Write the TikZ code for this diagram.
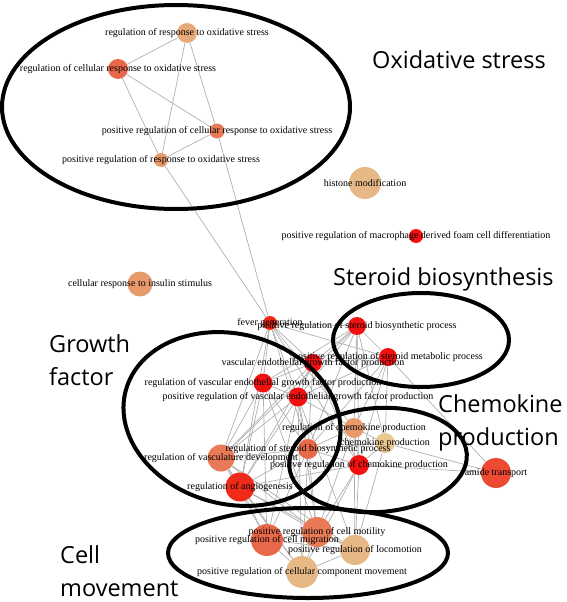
\documentclass[tikz,border=0pt]{standalone}
\usepackage{fontspec}
\setmainfont{Liberation Serif}
\newfontfamily\groupfont{Open Sans}
\usetikzlibrary{positioning,backgrounds}

\definecolor{termred}{HTML}{F21010}
\definecolor{termfever}{HTML}{F02A1A}
\definecolor{termamide}{HTML}{EC4A32}
\definecolor{termcoral}{HTML}{E8684A}
\definecolor{termsalmon}{HTML}{E87A58}
\definecolor{termorange}{HTML}{E89A6C}
\definecolor{termpeach}{HTML}{E8AA78}
\definecolor{termtan}{HTML}{E6B886}
\definecolor{termpale}{HTML}{EAC890}
\definecolor{linkgray}{HTML}{B0B0B0}

% name/x/y/diameter/colour/text
\newcommand{\termlist}{
	rros/187/33/20/termpeach/{regulation of response to oxidative stress},
	rcros/118/69/20/termcoral/{regulation of cellular response to oxidative stress},
	pcros/217/131/15/termsalmon/{positive regulation of cellular response to oxidative stress},
	pros/161/160/14/termorange/{positive regulation of response to oxidative stress},
	hist/365/183/32/termtan/{histone modification},
	foam/416/236/14/termred/{positive regulation of macrophage derived foam cell differentiation},
	insl/140/284/25/termorange/{cellular response to insulin stimulus},
	fev/270/323/14/termfever/{fever generation},
	psb/357/326/18/termred/{positive regulation of steroid biosynthetic process},
	psm/388/357/18/termred/{positive regulation of steroid metabolic process},
	veg/313/363/18/termred/{vascular endothelial growth factor production},
	rveg/263/383/19/termred/{regulation of vascular endothelial growth factor production},
	pveg/298/397/19/termred/{positive regulation of vascular endothelial growth factor production},
	rch/354/428/20/termorange/{regulation of chemokine production},
	chp/385/443/20/termpale/{chemokine production},
	rsb/308/449/20/termcoral/{regulation of steroid biosynthetic process},
	pch/359/465/20/termred/{positive regulation of chemokine production},
	amt/496/473/30/termamide/{amide transport},
	rvd/221/458/27/termsalmon/{regulation of vasculature development},
	ran/240/487/29/termfever/{regulation of angiogenesis},
	pcmot/317/532/30/termsalmon/{positive regulation of cell motility},
	pcmig/267/540/32/termcoral/{positive regulation of cell migration},
	ploc/355/550/30/termtan/{positive regulation of locomotion},
	pccm/302/572/32/termtan/{positive regulation of cellular component movement}%
}

\tikzset{
	term/.style={circle, draw=none, inner sep=0pt},
	termlabel/.style={inner sep=0pt, font=\fontsize{10}{12}\selectfont},
	link/.style={draw=linkgray, line width=0.7pt},
	group/.style={draw=black, line width=4pt},
	grouplabel/.style={inner sep=0pt, align=left, font=\groupfont\fontsize{23.5}{32.5}\selectfont}
}

\begin{document}
\begin{tikzpicture}[x=1pt,y=-1pt]
	\useasboundingbox (0,0) rectangle (567,602);
	% GO terms
	\foreach \nm/\x/\y/\d/\col/\txt in \termlist
		\node[term, minimum size=\d, fill=\col] (\nm) at (\x,\y) {};
	% similarity links
	\begin{pgfonlayer}{background}
		\foreach \a/\b in {rros/rcros, rros/pros, rros/pcros, rcros/pcros, rcros/pros, pcros/pros,
			pcros/fev, pros/fev,
			fev/psb, fev/veg, fev/rveg, fev/pveg, fev/psm, fev/rvd, fev/ran, fev/rsb, fev/pch, fev/rch,
			psb/psm, psb/veg, psb/rveg, psb/pveg, psb/rsb, psb/rch, psb/chp, psb/pch, psb/rvd,
			psm/veg, psm/pveg, psm/rsb, psm/rch, psm/chp, psm/pch, psm/amt,
			veg/rveg, veg/pveg, veg/rvd, veg/ran, veg/rsb, veg/pch,
			rveg/pveg, rveg/rvd, rveg/ran, rveg/pcmot, rveg/pcmig, rveg/rsb,
			pveg/rvd, pveg/ran, pveg/rsb, pveg/pcmot, pveg/pcmig, pveg/pccm, pveg/ploc, pveg/rch,
			rch/chp, rch/pch, rch/rsb, rch/pcmot, rch/ploc,
			chp/pch, chp/amt, chp/rsb, chp/ploc,
			rsb/pch, rsb/rvd, rsb/ran, rsb/pcmot, rsb/pcmig, rsb/pccm,
			pch/ploc, pch/pcmot, pch/pccm, pch/ran, pch/amt,
			rvd/ran, rvd/pcmig, rvd/pcmot, rvd/pccm, rvd/ploc,
			ran/pcmig, ran/pcmot, ran/pccm, ran/ploc,
			pcmig/pcmot, pcmig/ploc, pcmig/pccm, pcmot/ploc, pcmot/pccm, ploc/pccm}
			\path[link] (\a) edge (\b);
	\end{pgfonlayer}
	\foreach \nm/\x/\y/\d/\col/\txt in \termlist
		\node[termlabel] (\nm-text) at (\nm) {\txt};
	% clusters
	\draw[group] (176,107) ellipse [x radius=174, y radius=102];
	\draw[group] (421,340) ellipse [x radius=88, y radius=47];
	\draw[group, rotate around={-15:(232,419)}] (232,419) ellipse [x radius=110, y radius=85];
	\draw[group, rotate around={4:(378,460)}] (378,460) ellipse [x radius=89, y radius=52];
	\draw[group] (308,553) ellipse [x radius=140, y radius=45];
	\node[grouplabel, anchor=base west] (oxlabel) at (372,68) {Oxidative stress};
	\node[grouplabel, anchor=base west] (sterlabel) at (333,285) {Steroid biosynthesis};
	\node[grouplabel, anchor=base west] (gflabel) at (49,385) {Growth\\factor};
	\node[grouplabel, anchor=base west] (chemlabel) at (438,445) {Chemokine\\production};
	\node[grouplabel, anchor=base west] (movlabel) at (60,596) {Cell\\movement};
\end{tikzpicture}
\end{document}
